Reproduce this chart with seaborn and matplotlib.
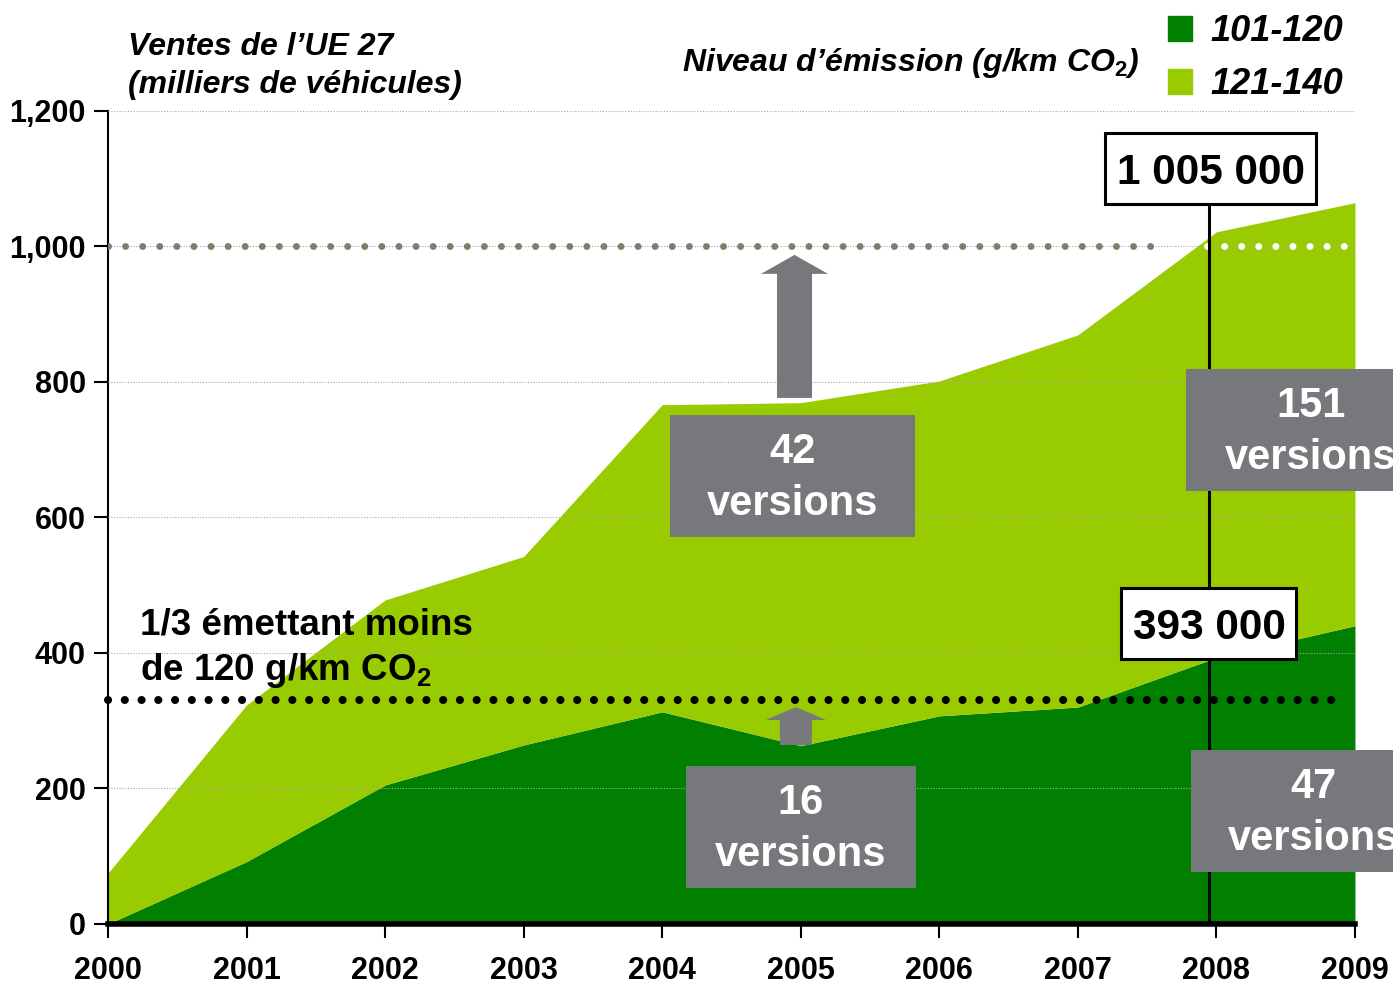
import matplotlib
matplotlib.use("Agg")
import matplotlib.pyplot as plt
import matplotlib.patches as mpatches
import seaborn as sns

# EU27 sales (thousands of vehicles) by CO2 emission band
years = [2000, 2001, 2002, 2003, 2004, 2005, 2006, 2007, 2008, 2009]
sales_101_120 = [0, 92, 205, 264, 313, 263, 307, 320, 393, 440]
sales_total = [75, 323, 478, 542, 766, 769, 801, 869, 1021, 1064]
sales_121_140 = [t - d for t, d in zip(sales_total, sales_101_120)]
series_labels = ["101-120", "121-140"]
y_ticks = [0, 200, 400, 600, 800, 1000, 1200]
million_level = 1000
third_level = 330

DARK = "#007f00"
LIGHT = "#99cc00"
GREY = "#76787c"

sns.set_theme(style="white")
plt.rcParams["font.family"] = ["Liberation Sans", "DejaVu Sans"]
plt.rcParams["font.weight"] = "bold"
plt.rcParams["text.color"] = "black"
plt.rcParams["mathtext.fontset"] = "custom"
plt.rcParams["mathtext.rm"] = "Liberation Sans:bold"
plt.rcParams["mathtext.bf"] = "Liberation Sans:bold"
plt.rcParams["mathtext.it"] = "Liberation Sans:italic:bold"

fig = plt.figure(figsize=(13.93, 9.84), dpi=100)
ax = fig.add_axes([0.0775, 0.061, 0.8952, 0.8267])

ax.stackplot(years, sales_101_120, sales_121_140, colors=[DARK, LIGHT],
             linewidth=0, zorder=1)

ax.set_xlim(2000, 2009)
ax.set_ylim(0, 1200)
ax.set_xticks(years)
ax.set_xticklabels([str(y) for y in years])
ax.set_yticks(y_ticks)
ax.set_yticklabels([f"{v:,}" for v in y_ticks])
ax.tick_params(axis="x", bottom=True, length=10, width=1.5, pad=13,
               labelsize=22, color="black", labelcolor="black")
ax.tick_params(axis="y", left=True, length=10, width=1.5, pad=6,
               labelsize=22, color="black", labelcolor="black")

sns.despine(ax=ax)
ax.spines["left"].set_linewidth(1.5)
ax.spines["left"].set_color("black")
ax.spines["bottom"].set_linewidth(4)
ax.spines["bottom"].set_color("black")

ax.yaxis.grid(True, linestyle=(0, (1, 1.5)), linewidth=0.8, color="#a8a8a8")
ax.set_axisbelow(False)

# reference dotted lines
ax.plot([2000, 2007.57], [million_level] * 2, color="#857b6c", lw=5,
        linestyle=(0, (0.01, 2.45)), dash_capstyle="round", zorder=3)
ax.plot([2007.93, 2009], [million_level] * 2, color="white", lw=5,
        linestyle=(0, (0.01, 2.45)), dash_capstyle="round", zorder=3)
ax.plot([2000, 2008.93], [third_level] * 2, color="black", lw=5.8,
        linestyle=(0, (0.01, 2.07)), dash_capstyle="round", zorder=3,
        clip_on=False)

# 2008 marker line
ax.plot([2007.95, 2007.95], [0, 1100], color="black", lw=2.2, zorder=4,
        solid_capstyle="butt")


def box(x0, x1, y0, y1, face, edge=None, lw=0):
    ax.add_patch(mpatches.Rectangle((x0, y0), x1 - x0, y1 - y0, facecolor=face,
                                    edgecolor=edge if edge else face, lw=lw,
                                    zorder=5, clip_on=False))


box(2007.195, 2008.718, 1062.7, 1167.5, "white", "black", 2.2)
ax.text(2007.96, 1108, "1 005 000", ha="center", va="center", fontsize=30.5,
        color="black", zorder=6)
box(2007.311, 2008.574, 391.1, 495.9, "white", "black", 2.2)
ax.text(2007.95, 437, "393 000", ha="center", va="center", fontsize=30.5,
        color="black", zorder=6)

for x0, x1, y0, y1, cx, cy, txt in [
    (2004.056, 2005.824, 571.2, 751.3, 2004.94, 658, "42\nversions"),
    (2004.171, 2005.831, 53.1, 233.2, 2005.0, 140, "16\nversions"),
    (2007.78, 2009.5, 639.1, 819.2, 2008.68, 726, "151\nversions"),
    (2007.816, 2009.5, 76.8, 256.8, 2008.70, 164, "47\nversions"),
]:
    box(x0, x1, y0, y1, GREY)
    ax.text(cx, cy, txt, ha="center", va="center", fontsize=30, color="white",
            linespacing=1.38, zorder=6, clip_on=False)

# arrows
ax.add_patch(mpatches.FancyArrow(2004.955, 776, 0, 211, width=0.253,
                                 head_width=0.484, head_length=28,
                                 length_includes_head=True, color=GREY, lw=0,
                                 zorder=5))
ax.add_patch(mpatches.FancyArrow(2004.965, 264, 0, 56, width=0.231,
                                 head_width=0.433, head_length=19,
                                 length_includes_head=True, color=GREY, lw=0,
                                 zorder=5))

ax.text(2000.23, 406, "1/3 émettant moins\nde 120 g/km CO$_\\mathbf{2}$",
        ha="left", va="center", fontsize=26.5, color="black", linespacing=1.3,
        zorder=6)

fig.text(0.0919, 0.933, "Ventes de l\u2019UE 27\n(milliers de véhicules)",
         ha="left", va="center", fontsize=23, style="italic", color="black",
         linespacing=1.35)
fig.text(0.4896, 0.936, "Niveau d\u2019émission (g/km CO$_\\mathit{2}$)",
         ha="left", va="center", fontsize=23, style="italic", color="black")

handles = [mpatches.Patch(color=c, label=l) for c, l in zip([DARK, LIGHT], series_labels)]
fig.legend(handles=handles, loc="upper left", bbox_to_anchor=(1168 / 1393, 1 - 14 / 984),
           frameon=False, prop=dict(weight="bold", style="italic", size=26),
           labelcolor="black", handlelength=0.67, handleheight=0.7,
           handletextpad=0.5, labelspacing=0.5, borderpad=0, borderaxespad=0)

fig.savefig("out.png", dpi=100)
